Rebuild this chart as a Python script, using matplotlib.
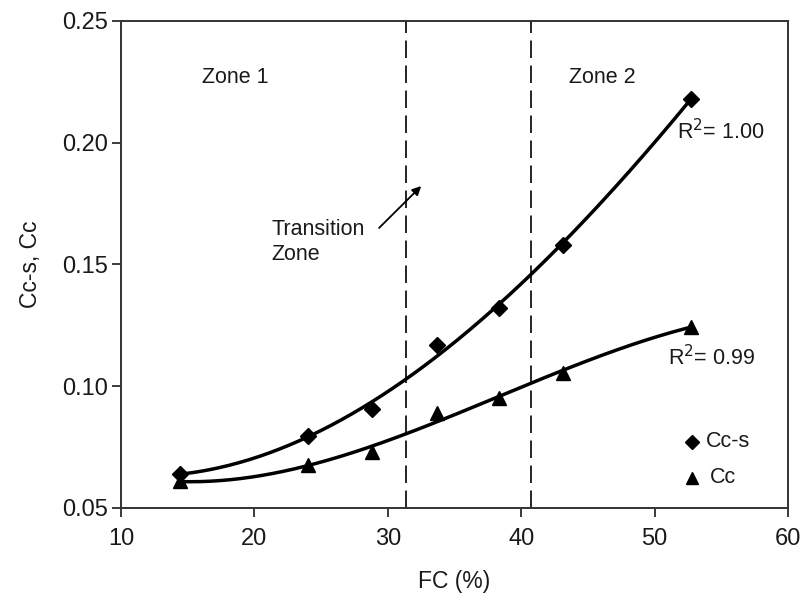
import numpy as np
import matplotlib
matplotlib.use("Agg")
import matplotlib.pyplot as plt

plt.rcParams['font.family'] = ['Liberation Sans', 'DejaVu Sans']

# Fines content (%) and compression indices
fc = [14.4, 24.0, 28.8, 33.7, 38.3, 43.1, 52.7]
cc_s = [0.064, 0.0795, 0.0905, 0.117, 0.132, 0.158, 0.218]
cc = [0.061, 0.0675, 0.073, 0.089, 0.095, 0.1055, 0.1245]

zone_bounds = [31.4, 40.7]
x_ticks = [10, 20, 30, 40, 50, 60]
y_ticks = [0.05, 0.10, 0.15, 0.20, 0.25]

fig = plt.figure(figsize=(8.03, 5.96), dpi=100)
ax = fig.add_axes([0.1507, 0.1477, 0.8306, 0.8171])

# Polynomial trendlines through each series
xs = np.linspace(min(fc), max(fc), 200)
for series in (cc_s, cc):
    coef = np.polyfit(fc, series, 3)
    ax.plot(xs, np.polyval(coef, xs), color='black', lw=2.5, zorder=2,
            solid_capstyle='round')

ax.plot(fc, cc_s, linestyle='none', marker='D', color='black', ms=8, zorder=3)
ax.plot(fc, cc, linestyle='none', marker='^', color='black', ms=9.5, zorder=3)

for xb in zone_bounds:
    ax.axvline(xb, color='black', lw=1.2, ls=(0, (10.5, 4.5)), zorder=1)

fs = 15.5
tc = '#1a1a1a'
ax.text(0.171, 0.883, 'Zone 1', transform=ax.transAxes, fontsize=fs,
        ha='center', va='center', color=tc)
ax.text(0.721, 0.883, 'Zone 2', transform=ax.transAxes, fontsize=fs,
        ha='center', va='center', color=tc)
ax.text(0.226, 0.546, 'Transition\nZone', transform=ax.transAxes, fontsize=fs,
        ha='left', va='center', linespacing=1.3, color=tc)
ax.annotate('', xy=(0.453, 0.665), xytext=(0.384, 0.571),
            xycoords='axes fraction', textcoords='axes fraction',
            arrowprops=dict(arrowstyle='-|>', color='black', lw=1.3,
                            mutation_scale=13))

ax.text(0.834, 0.772, r'R$^2$= 1.00', transform=ax.transAxes, fontsize=fs,
        ha='left', va='center', color=tc)
ax.text(0.820, 0.308, r'R$^2$= 0.99', transform=ax.transAxes, fontsize=fs,
        ha='left', va='center', color=tc)

# Legend drawn as markers with labels
ax.plot([0.856], [0.1355], transform=ax.transAxes, marker='D', color='black', ms=7)
ax.text(0.877, 0.1355, 'Cc-s', transform=ax.transAxes, fontsize=fs,
        ha='left', va='center', color=tc)
ax.plot([0.856], [0.0616], transform=ax.transAxes, marker='^', color='black', ms=8.5)
ax.text(0.883, 0.0616, 'Cc', transform=ax.transAxes, fontsize=fs,
        ha='left', va='center', color=tc)

ax.set_xlim(10, 60)
ax.set_ylim(0.05, 0.25)
ax.set_xticks(x_ticks)
ax.set_yticks(y_ticks)
ax.set_yticklabels([f'{v:.2f}' for v in y_ticks])
ax.tick_params(direction='out', length=6.5, width=1.2, labelsize=17, colors=tc)
ax.tick_params(axis='x', pad=8)
ax.tick_params(axis='y', pad=3)
for s in ax.spines.values():
    s.set_linewidth(1.4)
    s.set_color('#333333')

ax.set_xlabel('FC (%)', fontsize=16.5, labelpad=14, color=tc)
ax.set_ylabel('Cc-s, Cc', fontsize=16.5, labelpad=14, color=tc)

fig.savefig('out.png', dpi=100)
